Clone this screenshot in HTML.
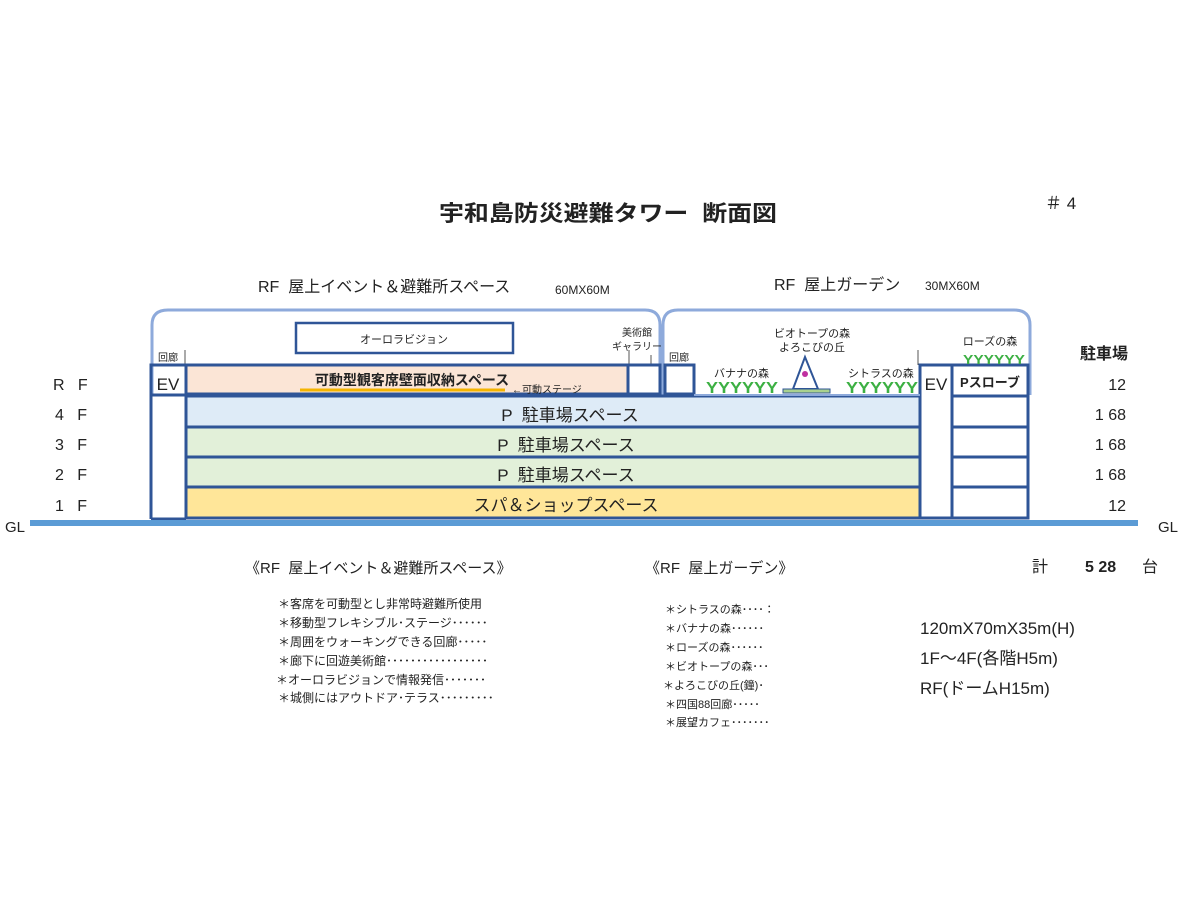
<!DOCTYPE html>
<html><head><meta charset="utf-8"><style>
html,body{margin:0;padding:0;background:#fff;}
svg{display:block;}
text{font-family:"Liberation Sans","Noto Sans CJK JP",sans-serif;fill:#222;white-space:pre;}
</style></head><body>
<svg width="1200" height="900" viewBox="0 0 1200 900" xmlns="http://www.w3.org/2000/svg" xml:space="preserve">
<text x="608" y="221" font-size="22" font-weight="bold" text-anchor="middle" textLength="338" lengthAdjust="spacingAndGlyphs">宇和島防災避難タワー  断面図</text>
<text x="1045" y="209" font-size="17">＃ 4</text>
<text x="258" y="292" font-size="16">RF  屋上イベント＆避難所スペース</text>
<text x="555" y="294" font-size="12">60MX60M</text>
<text x="774" y="290" font-size="16">RF  屋上ガーデン</text>
<text x="925" y="290" font-size="12">30MX60M</text>

<path d="M152,395 V325 Q152,310 168,310 H645 Q660,310 660,325 V395" fill="none" stroke="#8eaadb" stroke-width="3"/>
<path d="M663,395 V325 Q663,310 678,310 H1014 Q1030,310 1030,325 V395" fill="none" stroke="#8eaadb" stroke-width="3"/>

<rect x="296" y="323" width="217" height="30" fill="#fff" stroke="#2f5597" stroke-width="2.5"/>
<text x="404" y="343" font-size="11" text-anchor="middle">オーロラビジョン</text>
<text x="158" y="361" font-size="10">回廊</text>
<line x1="185" y1="350" x2="185" y2="365" stroke="#555" stroke-width="1"/>
<text x="637" y="336" font-size="10" text-anchor="middle">美術館</text>
<text x="637" y="350" font-size="10" text-anchor="middle">ギャラリー</text>
<line x1="629" y1="350" x2="629" y2="365" stroke="#555" stroke-width="1"/>
<line x1="651" y1="355" x2="651" y2="364" stroke="#555" stroke-width="1"/>
<text x="669" y="361" font-size="10">回廊</text>

<rect x="186" y="366" width="442" height="27" fill="#fbe5d6"/>
<rect x="186" y="397" width="734" height="30" fill="#deebf7"/>
<rect x="186" y="428" width="734" height="29" fill="#e2f0d9"/>
<rect x="186" y="458" width="734" height="29" fill="#e2f0d9"/>
<rect x="186" y="488" width="734" height="30" fill="#ffe699"/>
<g stroke="#2f5597" stroke-width="3" fill="none">
<rect x="151" y="365" width="35" height="30"/>
<line x1="151" y1="395" x2="151" y2="519"/>
<line x1="186" y1="395" x2="186" y2="519"/>
<line x1="151" y1="519" x2="186" y2="519"/>
<rect x="186" y="365" width="442" height="29"/>
<rect x="628" y="365" width="32" height="29"/>
<rect x="665" y="365" width="29" height="29"/>
<line x1="186" y1="396" x2="920" y2="396"/>
<line x1="186" y1="427" x2="920" y2="427"/>
<line x1="186" y1="457" x2="920" y2="457"/>
<line x1="186" y1="487" x2="920" y2="487"/>
<line x1="186" y1="518" x2="920" y2="518"/>
<rect x="920" y="365" width="32" height="153"/>
<rect x="952" y="365" width="76" height="153"/>
<line x1="952" y1="396" x2="1028" y2="396"/>
<line x1="952" y1="427" x2="1028" y2="427"/>
<line x1="952" y1="457" x2="1028" y2="457"/>
<line x1="952" y1="487" x2="1028" y2="487"/>
</g>
<line x1="918" y1="350" x2="918" y2="365" stroke="#555" stroke-width="1"/>
<text x="168" y="390" font-size="17" text-anchor="middle">EV</text>
<text x="936" y="390" font-size="17" text-anchor="middle">EV</text>
<text x="990" y="387" font-size="13" font-weight="bold" text-anchor="middle">Pスローブ</text>
<text x="412" y="385" font-size="14" font-weight="bold" text-anchor="middle">可動型観客席壁面収納スペース</text>
<line x1="300" y1="390" x2="505" y2="390" stroke="#f4b400" stroke-width="3"/>
<text x="512" y="393" font-size="10">←可動ステージ</text>
<text x="570" y="421" font-size="17" text-anchor="middle">P  駐車場スペース</text>
<text x="566" y="451" font-size="17" text-anchor="middle">P  駐車場スペース</text>
<text x="566" y="481" font-size="17" text-anchor="middle">P  駐車場スペース</text>
<text x="566" y="511" font-size="17" text-anchor="middle">スパ＆ショップスペース</text>

<text x="714" y="377" font-size="11">バナナの森</text>
<text x="848" y="377" font-size="11">シトラスの森</text>
<text x="812" y="337" font-size="11" text-anchor="middle">ビオトープの森</text>
<text x="812" y="351" font-size="11" text-anchor="middle">よろこびの丘</text>
<text x="990" y="345" font-size="11" text-anchor="middle">ローズの森</text>
<text x="706" y="393" font-size="16" font-weight="bold" style="fill:#3cb043" textLength="72" lengthAdjust="spacingAndGlyphs">YYYYYY</text>
<text x="846" y="393" font-size="16" font-weight="bold" style="fill:#3cb043" textLength="72" lengthAdjust="spacingAndGlyphs">YYYYYY</text>
<text x="963" y="364" font-size="13" font-weight="bold" style="fill:#3cb043" textLength="62" lengthAdjust="spacingAndGlyphs">YYYYYY</text>
<line x1="694" y1="395" x2="920" y2="395" stroke="#8eaadb" stroke-width="2"/>
<polygon points="805,357 793,389 818,389" fill="#fff" stroke="#2f5597" stroke-width="2"/>
<circle cx="805" cy="374" r="3" fill="#c030a0"/>
<rect x="783" y="389" width="47" height="4" fill="#a9d18e" stroke="#2f5597" stroke-width="1"/>

<rect x="30" y="520" width="1108" height="6" fill="#5b9bd5"/>
<text x="5" y="532" font-size="15">GL</text>
<text x="1158" y="532" font-size="15">GL</text>

<g font-size="16">
<text x="53" y="390">R   F</text>
<text x="55" y="420">4   F</text>
<text x="55" y="450">3   F</text>
<text x="55" y="480">2   F</text>
<text x="55" y="511">1   F</text>
</g>
<g font-size="16" text-anchor="end">
<text x="1128" y="359" font-weight="bold">駐車場</text>
<text x="1126" y="390">12</text>
<text x="1126" y="420">1 68</text>
<text x="1126" y="450">1 68</text>
<text x="1126" y="480">1 68</text>
<text x="1126" y="511">12</text>
</g>
<text x="1032" y="572" font-size="16">計</text>
<text x="1085" y="572" font-size="16" font-weight="bold">5 28</text>
<text x="1142" y="572" font-size="16">台</text>

<text x="245" y="573" font-size="15">《RF  屋上イベント＆避難所スペース》</text>
<g font-size="12">
<text x="278" y="608">＊客席を可動型とし非常時避難所使用</text>
<text x="278" y="627">＊移動型フレキシブル･ステージ･･････</text>
<text x="278" y="646">＊周囲をウォーキングできる回廊･････</text>
<text x="278" y="665">＊廊下に回遊美術館･････････････････</text>
<text x="276" y="684">＊オーロラビジョンで情報発信･･･････</text>
<text x="278" y="702">＊城側にはアウトドア･テラス･････････</text>
</g>
<text x="645" y="573" font-size="15">《RF  屋上ガーデン》</text>
<g font-size="11">
<text x="665" y="613">＊シトラスの森････：</text>
<text x="665" y="632">＊バナナの森･･････</text>
<text x="665" y="651">＊ローズの森･･････</text>
<text x="665" y="670">＊ビオトープの森･･･</text>
<text x="663" y="689">＊よろこびの丘(鐘)･</text>
<text x="665" y="708">＊四国88回廊･････</text>
<text x="665" y="726">＊展望カフェ･･･････</text>
</g>
<g font-size="17">
<text x="920" y="634">120mX70mX35m(H)</text>
<text x="920" y="664">1F～4F(各階H5m)</text>
<text x="920" y="694">RF(ドームH15m)</text>
</g>
</svg>
</body></html>
